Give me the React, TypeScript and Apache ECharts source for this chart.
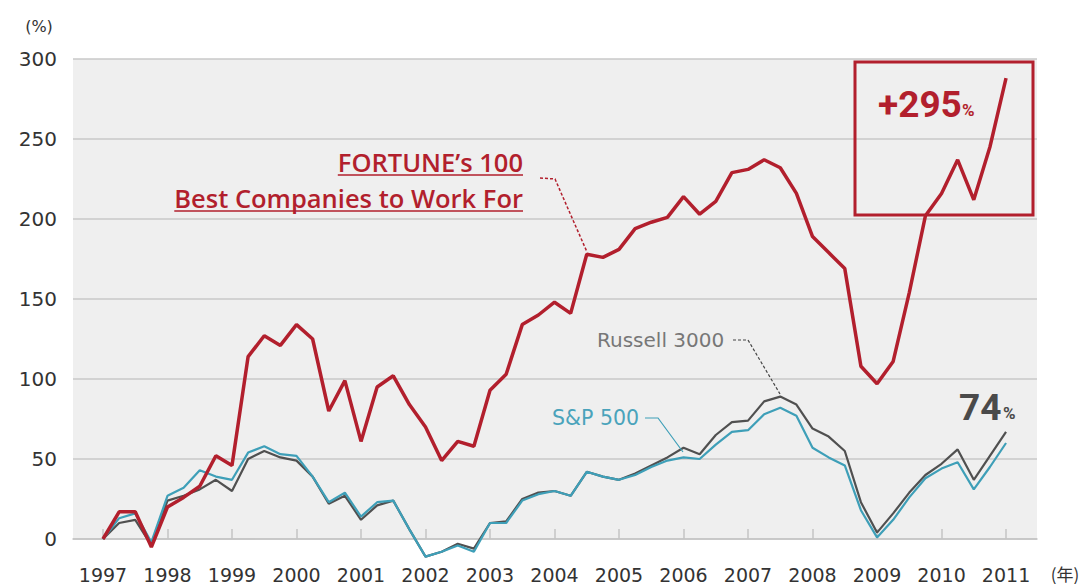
import React, { useEffect, useRef } from 'react';
import * as echarts from 'echarts';

// Quarterly positions (fractional years)
const quarterX = [
  1997, 1997.25, 1997.5, 1997.75, 1998, 1998.25, 1998.5, 1998.75,
  1999, 1999.25, 1999.5, 1999.75, 2000, 2000.25, 2000.5, 2000.75,
  2001, 2001.25, 2001.5, 2001.75, 2002, 2002.25, 2002.5, 2002.75,
  2003, 2003.25, 2003.5, 2003.75, 2004, 2004.25, 2004.5, 2004.75,
  2005, 2005.25, 2005.5, 2005.75, 2006, 2006.25, 2006.5, 2006.75,
  2007, 2007.25, 2007.5, 2007.75, 2008, 2008.25, 2008.5, 2008.75,
  2009, 2009.25, 2009.5, 2009.75, 2010, 2010.25, 2010.5, 2010.75,
  2011,
];

const fortune100 = [
  0, 17, 17, -5, 20, 26, 33, 52,
  46, 114, 127, 121, 134, 125, 80, 99,
  61, 95, 102, 84, 70, 49, 61, 58,
  93, 103, 134, 140, 148, 141, 178, 176,
  181, 194, 198, 201, 214, 203, 211, 229,
  231, 237, 232, 216, 189, 179, 169, 108,
  97, 111, 154, 202, 216, 237, 212, 245,
  288,
];

const russell3000 = [
  0, 10, 12, -4, 24, 27, 31, 37,
  30, 50, 55, 51, 49, 39, 22, 27,
  12, 21, 24, 6, -11, -8, -3, -6,
  10, 11, 25, 29, 30, 27, 42, 39,
  37, 41, 46, 51, 57, 53, 65, 73,
  74, 86, 89, 84, 69, 64, 55, 23,
  4, 16, 29, 40, 47, 56, 37, 52,
  67,
];

const sp500 = [
  0, 13, 16, -2, 27, 32, 43, 39,
  37, 54, 58, 53, 52, 39, 23, 29,
  14, 23, 24, 6, -11, -8, -4, -8,
  10, 10, 24, 28, 30, 27, 42, 39,
  37, 40, 45, 49, 51, 50, 59, 67,
  68, 78, 82, 77, 57, 51, 46, 18,
  1, 12, 26, 38, 44, 48, 31, 45,
  60,
];

const yearTicks = [
  1997, 1998, 1999, 2000, 2001, 2002, 2003, 2004,
  2005, 2006, 2007, 2008, 2009, 2010, 2011,
];

const RED = '#b21f2d';
const TEAL = '#3e9fb8';
const GRAY = '#505050';

function pairs(vals: number[]) {
  return quarterX.map((x, i) => [x, vals[i]]);
}

function textWidth(text: string, font: string) {
  const c = document.createElement('canvas').getContext('2d');
  if (!c) return text.length * 12;
  c.font = font;
  return c.measureText(text).width;
}

export default function App() {
  const ref = useRef<HTMLDivElement>(null);

  useEffect(() => {
    if (!ref.current) return;
    const chart = echarts.init(ref.current, undefined, { renderer: 'svg' });

    const fFamily = '"Open Sans", "Noto Sans", sans-serif';
    const fSize = 25.5;
    const fWeight = 600;
    const line1 = 'FORTUNE\u2019s 100';
    const line2 = 'Best Companies to Work For';
    const w1 = textWidth(line1, `${fWeight} ${fSize}px ${fFamily}`);
    const w2 = textWidth(line2, `${fWeight} ${fSize}px ${fFamily}`);
    const fRight = 523;

    const axisFont = '"DejaVu Sans", sans-serif';

    chart.setOption({
      animation: false,
      grid: {
        left: 73,
        right: 46,
        top: 59,
        bottom: 45,
        show: true,
        backgroundColor: '#efefef',
        borderWidth: 0,
      },
      xAxis: {
        type: 'value',
        min: 1996.535,
        max: 2011.48,
        axisLine: { show: true, lineStyle: { color: '#c4c4c4', width: 1.5 } },
        axisTick: {
          show: true,
          inside: true,
          length: 10,
          customValues: yearTicks,
          lineStyle: { color: '#c4c4c4', width: 1.5 },
        },
        axisLabel: {
          customValues: yearTicks,
          formatter: (v: number) => String(Math.round(v)),
          fontFamily: axisFont,
          fontSize: 19,
          color: '#333',
          margin: 26,
        },
        splitLine: { show: false },
      },
      yAxis: {
        type: 'value',
        min: 0,
        max: 300,
        interval: 50,
        axisLine: { show: false },
        axisTick: { show: false },
        axisLabel: {
          fontFamily: axisFont,
          fontSize: 20,
          color: '#333',
          margin: 16,
        },
        splitLine: { show: true, lineStyle: { color: '#c9c9c9', width: 1.5 } },
      },
      series: [
        {
          name: 'Russell 3000',
          type: 'line',
          data: pairs(russell3000),
          symbol: 'none',
          clip: false,
          lineStyle: { color: GRAY, width: 2.2 },
          z: 2,
        },
        {
          name: 'S&P 500',
          type: 'line',
          data: pairs(sp500),
          symbol: 'none',
          clip: false,
          lineStyle: { color: TEAL, width: 2.2 },
          z: 3,
        },
        {
          name: "FORTUNE's 100 Best Companies to Work For",
          type: 'line',
          data: pairs(fortune100),
          symbol: 'none',
          clip: false,
          lineStyle: { color: RED, width: 3.5 },
          z: 4,
        },
      ],
      graphic: [
        // axis units
        {
          type: 'text',
          style: {
            x: 39, y: 26, text: '(%)', fontFamily: axisFont, fontSize: 16,
            fill: '#333', align: 'center', verticalAlign: 'middle',
          },
        },
        {
          type: 'text',
          style: {
            x: 1065, y: 573, text: '(年)', fontFamily: '"Noto Sans CJK JP", sans-serif', fontSize: 17,
            fill: '#333', align: 'center', verticalAlign: 'middle',
          },
        },
        // FORTUNE annotation (two lines)
        {
          type: 'text',
          z: 10,
          style: {
            x: fRight, y: 180, text: line1 + '\n' + line2, fontFamily: fFamily, fontSize: fSize,
            fontWeight: fWeight, fill: RED, align: 'right', verticalAlign: 'middle',
            lineHeight: 36,
          },
        },
        {
          type: 'line', z: 10,
          shape: { x1: fRight - w1, y1: 175, x2: fRight, y2: 175 },
          style: { stroke: RED, lineWidth: 1.5 },
        },
        {
          type: 'line', z: 10,
          shape: { x1: fRight - w2, y1: 211, x2: fRight, y2: 211 },
          style: { stroke: RED, lineWidth: 1.5 },
        },
        {
          type: 'polyline', z: 10,
          shape: { points: [[540, 178], [555, 179], [587, 252]] },
          style: { stroke: RED, lineWidth: 1.5, lineDash: [3, 2], fill: 'none' },
        },
        // Russell 3000 annotation
        {
          type: 'text', z: 10,
          style: {
            x: 597, y: 340, text: 'Russell 3000', fontFamily: axisFont, fontSize: 20,
            fill: '#777', align: 'left', verticalAlign: 'middle',
          },
        },
        {
          type: 'polyline', z: 10,
          shape: { points: [[733, 340], [748, 340], [780, 394]] },
          style: { stroke: '#444', lineWidth: 1.2, lineDash: [3, 2], fill: 'none' },
        },
        // S&P 500 annotation
        {
          type: 'text', z: 10,
          style: {
            x: 552, y: 418, text: 'S&P 500', fontFamily: axisFont, fontSize: 20.5,
            fill: '#4aa3bb', align: 'left', verticalAlign: 'middle',
          },
        },
        {
          type: 'polyline', z: 10,
          shape: { points: [[645, 418], [658, 418], [683, 452]] },
          style: { stroke: TEAL, lineWidth: 1.2, fill: 'none' },
        },
        // +295% box
        {
          type: 'rect', z: 10,
          shape: { x: 855, y: 62, width: 178, height: 153 },
          style: { stroke: RED, lineWidth: 3, fill: 'none' },
        },
        {
          type: 'text', z: 11,
          style: {
            x: 878, y: 104, text: '+295', fontFamily: 'Roboto, sans-serif', fontSize: 37,
            fontWeight: 'bold', fill: RED, align: 'left', verticalAlign: 'middle',
          },
        },
        {
          type: 'text', z: 11,
          style: {
            x: 962, y: 110, text: '%', fontFamily: 'Roboto, sans-serif', fontSize: 17,
            fontWeight: 'bold', fill: RED, align: 'left', verticalAlign: 'middle',
          },
        },
        // 74% label
        {
          type: 'text', z: 11,
          style: {
            x: 959, y: 407, text: '74', fontFamily: 'Roboto, sans-serif', fontSize: 37,
            fontWeight: 'bold', fill: '#4a4a4a', align: 'left', verticalAlign: 'middle',
          },
        },
        {
          type: 'text', z: 11,
          style: {
            x: 1003, y: 413, text: '%', fontFamily: 'Roboto, sans-serif', fontSize: 17,
            fontWeight: 'bold', fill: '#4a4a4a', align: 'left', verticalAlign: 'middle',
          },
        },
      ],
    });

    return () => chart.dispose();
  }, []);

  return (
    <div
      ref={ref}
      style={{ position: 'fixed', left: 0, top: 0, width: 1083, height: 584, background: '#fff' }}
    />
  );
}
